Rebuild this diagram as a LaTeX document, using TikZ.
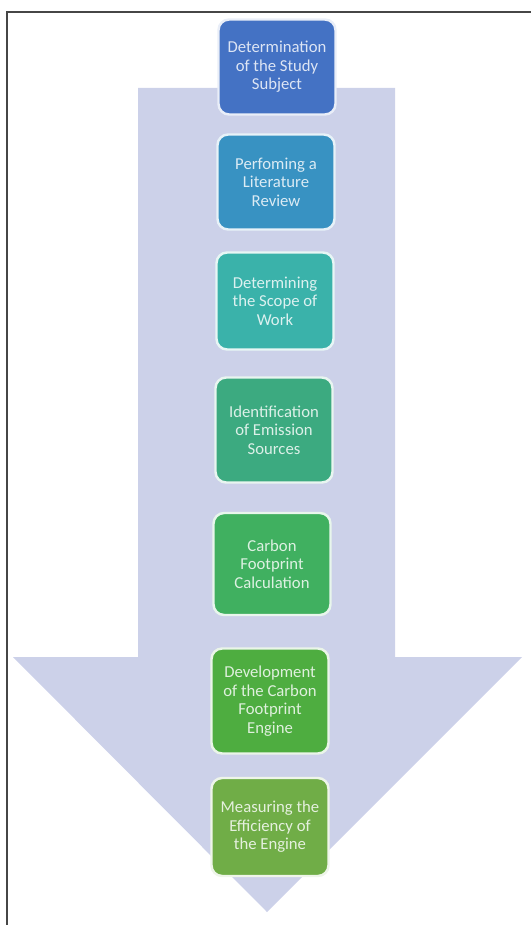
\documentclass[tikz,border=0pt]{standalone}
\usepackage{fontspec}
\setmainfont{Carlito}
\usepackage{tikz}
\usetikzlibrary{positioning}
\definecolor{arrowbg}{RGB}{204,209,233}
\definecolor{framegray}{RGB}{70,70,70}
\definecolor{cone}{RGB}{68,114,196}
\definecolor{ctwo}{RGB}{56,146,194}
\definecolor{cthree}{RGB}{58,178,170}
\definecolor{cfour}{RGB}{60,170,128}
\definecolor{cfive}{RGB}{64,176,96}
\definecolor{csix}{RGB}{78,173,64}
\definecolor{cseven}{RGB}{112,173,71}
\tikzset{
  stepbox/.style={rectangle, fill=#1, draw=#1!12!white, text=#1!18!white,
    align=center, minimum width=2.34cm, minimum height=2.0cm,
    font=\fontsize{9.5}{10.5}\selectfont, rounded corners=6pt, line width=1.4pt},
  bigarrow/.style={fill=arrowbg, draw=none},
  frame/.style={draw=framegray, line width=1.1pt}
}
\begin{document}
\begin{tikzpicture}[x=0.02cm, y=-0.02cm]
  \useasboundingbox (0,0) rectangle (531,925);

  % frame
  \draw[frame] (7,925) -- (7,12) -- (531,12);

  % big down arrow
  \fill[bigarrow] (138,88) -- (395,88) -- (395,657) -- (522,657) -- (267,912)
    -- (13,657) -- (138,657) -- cycle;

  % steps
  \node[stepbox=cone, minimum height=1.9cm] (subj) at (277,67) {Determination\\of the Study\\Subject};
  \node[stepbox=ctwo, minimum height=1.9cm] (litrev) at (276,182) {Perfoming a\\Literature\\Review};
  \node[stepbox=cthree, minimum height=1.94cm] (scope) at (275,301) {Determining\\the Scope of\\Work};
  \node[stepbox=cfour, minimum height=2.1cm] (sources) at (274,430) {Identification\\of Emission\\Sources};
  \node[stepbox=cfive, minimum height=2.04cm] (calc) at (272,564) {Carbon\\Footprint\\Calculation};
  \node[stepbox=csix, minimum height=2.1cm] (engine) at (270,701) {Development\\of the Carbon\\Footprint\\Engine};
  \node[stepbox=cseven, minimum height=1.96cm] (effic) at (270,827) {Measuring the\\Efficiency of\\the Engine};
\end{tikzpicture}
\end{document}
